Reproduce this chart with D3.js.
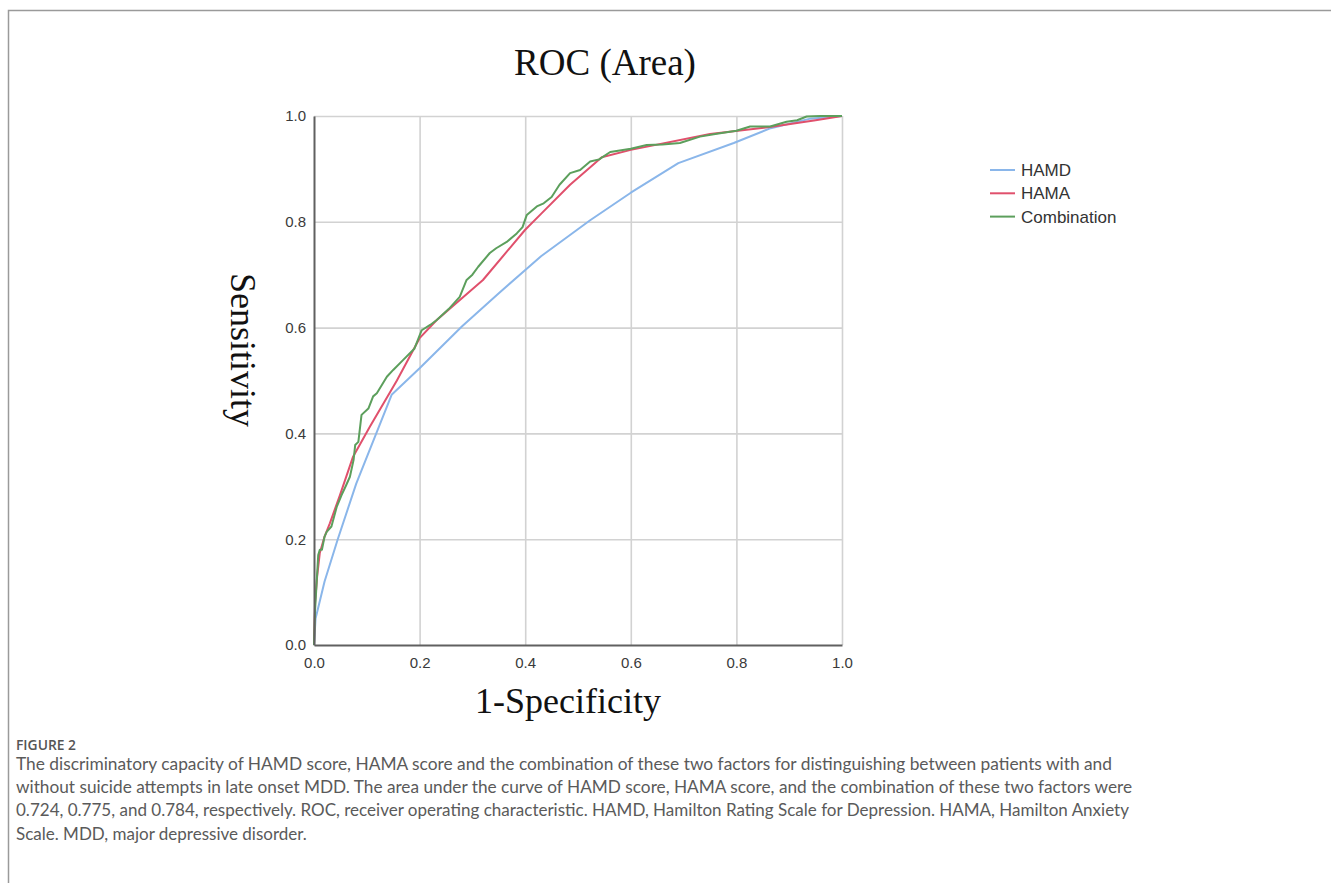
<!DOCTYPE html>
<html>
<head>
<meta charset="utf-8">
<script src="https://cdn.jsdelivr.net/npm/d3@7"></script>
<style>
  body { margin: 0; background: #fff; }
</style>
</head>
<body>
<div id="chart"></div>
<script>
// values
var seriesNames = ["HAMD", "HAMA", "Combination"];
var axisTicks = [0, 0.2, 0.4, 0.6, 0.8, 1.0];

var hamdX = [0, 0.003, 0.02, 0.045, 0.08, 0.147, 0.2, 0.28, 0.35, 0.43, 0.523, 0.6, 0.69, 0.795, 0.865, 0.94, 1];
var hamdY = [0, 0.05, 0.12, 0.2, 0.305, 0.473, 0.523, 0.602, 0.665, 0.735, 0.803, 0.855, 0.911, 0.949, 0.977, 0.995, 1];

var hamaX = [0, 0.002, 0.006, 0.011, 0.02, 0.03, 0.049, 0.074, 0.106, 0.157, 0.2, 0.232, 0.32, 0.4, 0.43, 0.485, 0.545, 0.6, 0.75, 0.87, 0.95, 1];
var hamaY = [0, 0.08, 0.13, 0.174, 0.205, 0.23, 0.283, 0.356, 0.413, 0.5, 0.58, 0.614, 0.69, 0.785, 0.815, 0.87, 0.922, 0.936, 0.966, 0.98, 0.992, 1];

var combX = [0, 0.002, 0.008, 0.011, 0.015, 0.02, 0.024, 0.033, 0.043, 0.052, 0.06, 0.068, 0.075, 0.078, 0.084, 0.09, 0.103, 0.112, 0.119, 0.138, 0.15, 0.169, 0.19, 0.204, 0.22, 0.232, 0.255, 0.276, 0.289, 0.3, 0.311, 0.333, 0.345, 0.365, 0.384, 0.395, 0.403, 0.422, 0.435, 0.45, 0.465, 0.485, 0.504, 0.523, 0.54, 0.561, 0.6, 0.63, 0.66, 0.693, 0.731, 0.76, 0.8, 0.826, 0.864, 0.895, 0.915, 0.933, 0.96, 1];
var combY = [0, 0.066, 0.17, 0.18, 0.18, 0.205, 0.214, 0.224, 0.261, 0.283, 0.3, 0.318, 0.35, 0.378, 0.384, 0.435, 0.447, 0.47, 0.476, 0.507, 0.52, 0.539, 0.56, 0.595, 0.605, 0.614, 0.635, 0.658, 0.69, 0.7, 0.715, 0.741, 0.75, 0.762, 0.778, 0.79, 0.813, 0.829, 0.835, 0.847, 0.87, 0.892, 0.898, 0.914, 0.918, 0.932, 0.938, 0.945, 0.946, 0.949, 0.961, 0.966, 0.972, 0.98, 0.98, 0.989, 0.992, 0.999, 1, 1];

var captionLines = [
  "The discriminatory capacity of HAMD score, HAMA score and the combination of these two factors for distinguishing between patients with and",
  "without suicide attempts in late onset MDD. The area under the curve of HAMD score, HAMA score, and the combination of these two factors were",
  "0.724, 0.775, and 0.784, respectively. ROC, receiver operating characteristic. HAMD, Hamilton Rating Scale for Depression. HAMA, Hamilton Anxiety",
  "Scale. MDD, major depressive disorder."
];

var colors = ["#8ab6ea", "#e0506c", "#5c9f5c"];

var svg = d3.select("#chart")
  .append("svg")
  .attr("width", 1331)
  .attr("height", 883)
  .style("display", "block");

// frame
svg.append("path")
  .attr("d", "M1331,10.5H8.5V883")
  .style("fill", "none")
  .style("stroke", "#9a9a9a")
  .style("stroke-width", "1.5px");

var x = d3.scaleLinear().domain([0, 1]).range([314, 842]);
var y = d3.scaleLinear().domain([0, 1]).range([645, 116]);

// grid
svg.append("g")
  .attr("transform", "translate(0,645)")
  .call(d3.axisBottom(x).tickValues(axisTicks.slice(1)).tickSize(-529).tickFormat(""))
  .call(function(g) {
    g.select(".domain").remove();
    g.selectAll("line").style("stroke", "#d2d2d2").style("stroke-width", "1.6px");
  });

svg.append("g")
  .attr("transform", "translate(314,0)")
  .call(d3.axisLeft(y).tickValues(axisTicks.slice(1)).tickSize(-528).tickFormat(""))
  .call(function(g) {
    g.select(".domain").remove();
    g.selectAll("line").style("stroke", "#d2d2d2").style("stroke-width", "1.6px");
  });

// curves
var series = [
  { name: seriesNames[0], xs: hamdX, ys: hamdY },
  { name: seriesNames[1], xs: hamaX, ys: hamaY },
  { name: seriesNames[2], xs: combX, ys: combY }
];

var line = d3.line()
  .x(function(d) { return x(d[0]); })
  .y(function(d) { return y(d[1]); });

svg.append("g")
  .selectAll("path")
  .data(series)
  .enter()
  .append("path")
  .attr("d", function(s) { return line(d3.zip(s.xs, s.ys)); })
  .style("fill", "none")
  .style("stroke", function(s, i) { return colors[i]; })
  .style("stroke-width", "2px")
  .style("stroke-linejoin", "round");

// axes
var xAxis = svg.append("g")
  .attr("transform", "translate(0,645)")
  .call(d3.axisBottom(x).tickValues(axisTicks).tickSize(0).tickPadding(12).tickFormat(d3.format(".1f")));

var yAxis = svg.append("g")
  .attr("transform", "translate(314,0)")
  .call(d3.axisLeft(y).tickValues(axisTicks).tickSize(0).tickPadding(8).tickFormat(d3.format(".1f")));

[xAxis, yAxis].forEach(function(g) {
  g.select(".domain").style("stroke", "#606060").style("stroke-width", "2px");
  g.selectAll("text")
    .style("font-family", "'Liberation Sans', Arial, sans-serif")
    .style("font-size", "15px")
    .style("fill", "#3a3a3a");
});

// titles
svg.append("text")
  .attr("x", 605)
  .attr("y", 75)
  .attr("text-anchor", "middle")
  .style("font-family", "'Liberation Serif', 'Times New Roman', serif")
  .style("font-size", "37px")
  .style("fill", "#111")
  .text("ROC (Area)");

svg.append("text")
  .attr("transform", "translate(231,350) rotate(90)")
  .attr("text-anchor", "middle")
  .style("font-family", "'Liberation Serif', 'Times New Roman', serif")
  .style("font-size", "36px")
  .style("fill", "#111")
  .text("Sensitivity");

svg.append("text")
  .attr("x", 568)
  .attr("y", 713)
  .attr("text-anchor", "middle")
  .style("font-family", "'Liberation Serif', 'Times New Roman', serif")
  .style("font-size", "36px")
  .style("fill", "#111")
  .text("1-Specificity");

// legend
var legend = svg.append("g")
  .selectAll("g")
  .data(seriesNames)
  .enter()
  .append("g")
  .attr("transform", function(d, i) { return "translate(990," + (170 + i * 23.3) + ")"; });

legend.append("line")
  .attr("x1", 0)
  .attr("x2", 25)
  .style("stroke", function(d, i) { return colors[i]; })
  .style("stroke-width", "2px");

legend.append("text")
  .attr("x", 31)
  .attr("dy", "0.35em")
  .style("font-family", "'Liberation Sans', Arial, sans-serif")
  .style("font-size", "17px")
  .style("fill", "#333")
  .text(function(d) { return d; });

// caption
svg.append("text")
  .attr("x", 16)
  .attr("y", 750)
  .attr("textLength", 60)
  .attr("lengthAdjust", "spacingAndGlyphs")
  .style("font-family", "'Open Sans', sans-serif")
  .style("font-weight", 600)
  .style("font-size", "14px")
  .style("fill", "#555")
  .text("FIGURE 2");

var capWidths = [1096, 1116, 1113, null];

svg.append("g")
  .selectAll("text")
  .data(captionLines)
  .enter()
  .append("text")
  .attr("x", 16)
  .attr("y", function(d, i) { return 770 + i * 23.2; })
  .attr("textLength", function(d, i) { return capWidths[i]; })
  .attr("lengthAdjust", "spacingAndGlyphs")
  .style("font-family", "Lato, sans-serif")
  .style("font-size", "17px")
  .style("fill", "#5a5a5a")
  .text(function(d) { return d; });
</script>
</body>
</html>
